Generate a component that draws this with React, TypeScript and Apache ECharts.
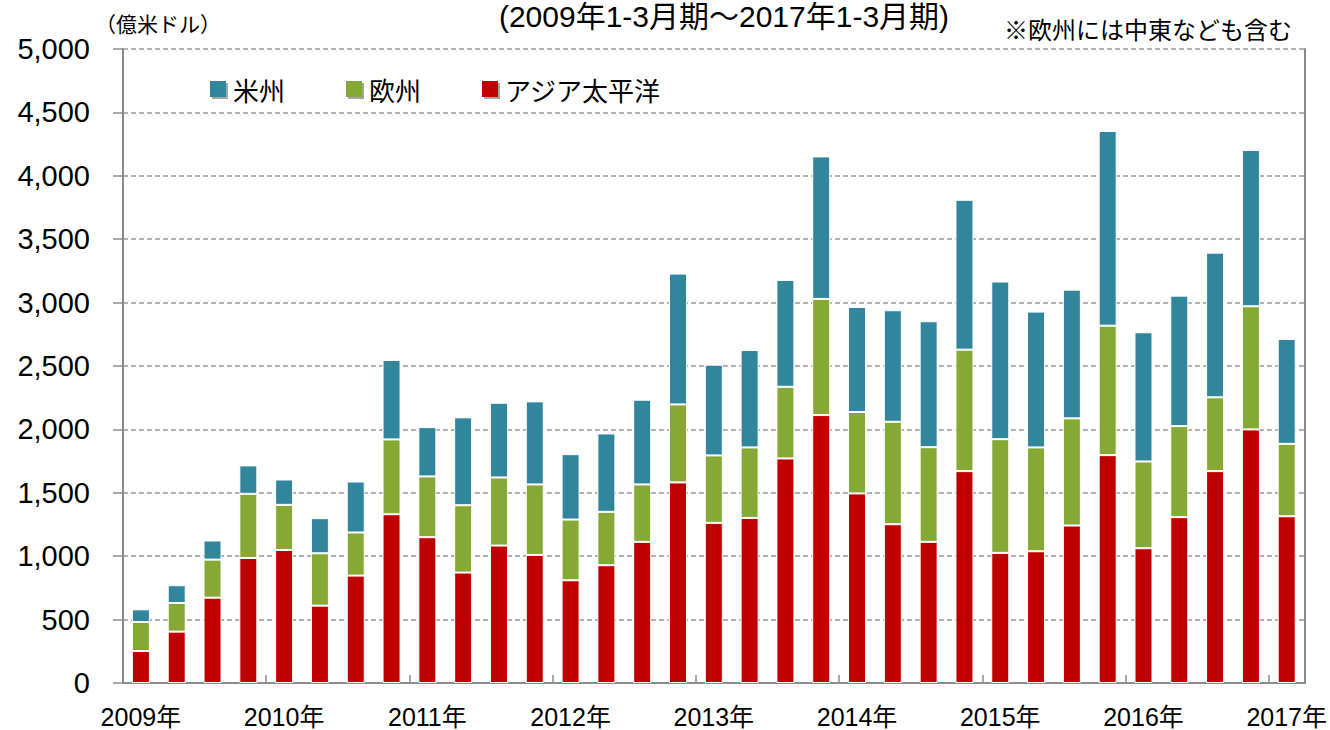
import React, { useEffect, useRef } from "react";
import * as echarts from "echarts";

const years = ["2009", "2010", "2011", "2012", "2013", "2014", "2015", "2016", "2017"];
const quarterNames = ["1-3月期", "4-6月期", "7-9月期", "10-12月期"];
const categories: string[] = [];
years.forEach((y) => quarterNames.forEach((q) => categories.push(`${y}年${q}`)));
categories.splice(33);

const seriesNames = ["米州", "欧州", "アジア太平洋"];

const asiaPacific = [252, 405, 673, 986, 1049, 610, 847, 1331, 1150, 871, 1084, 1010, 810, 929, 1113, 1582, 1263, 1302, 1771, 2113, 1495, 1252, 1113, 1671, 1026, 1039, 1242, 1797, 1063, 1308, 1671, 2000, 1315];
const europe = [229, 226, 300, 506, 356, 413, 340, 590, 479, 531, 537, 556, 479, 421, 453, 615, 532, 556, 565, 916, 642, 808, 747, 958, 897, 819, 845, 1021, 684, 718, 582, 971, 571];
const americas = [100, 140, 151, 224, 200, 277, 402, 626, 389, 693, 589, 655, 516, 618, 668, 1032, 715, 768, 843, 1124, 829, 880, 993, 1182, 1243, 1071, 1015, 1535, 1019, 1029, 1141, 1232, 827];

const titleText = "(2009年1-3月期～2017年1-3月期)";
const noteText = "※欧州には中東なども含む";
const unitText = "（億米ドル）";

const COLORS = { americas: "#31869B", europe: "#86A935", asia: "#C00000" };
const LATIN = "'Liberation Sans', Arial, 'Noto Sans CJK JP', sans-serif";
const CJK = "'Noto Sans CJK JP', 'Liberation Sans', sans-serif";

export default function App() {
  const ref = useRef<HTMLDivElement>(null);
  useEffect(() => {
    if (!ref.current) return;
    const chart = echarts.init(ref.current, undefined, { renderer: "svg" });
    const legendBase = (name: string, left: number) => ({
      data: [name],
      left,
      top: 71,
      icon: "rect",
      itemWidth: 16,
      itemHeight: 16,
      selectedMode: false,
      textStyle: { fontSize: 26, fontFamily: CJK, color: "#000", padding: [0, 0, 0, 2] },
      itemStyle: { borderWidth: 0, shadowColor: "rgba(0,0,0,0.35)", shadowOffsetX: 2, shadowOffsetY: 2, shadowBlur: 0 },
    });
    const barBase = {
      type: "bar" as const,
      stack: "total",
      barWidth: 18,
      itemStyle: { borderColor: "#fff", borderWidth: 1 },
    };
    chart.setOption({
      animation: false,
      backgroundColor: "#fff",
      grid: { left: 123, right: 24, top: 49, bottom: 47, containLabel: false },
      legend: [
        legendBase(seriesNames[0], 205),
        legendBase(seriesNames[1], 341),
        legendBase(seriesNames[2], 477),
      ],
      graphic: [
        {
          type: "text",
          x: 724,
          y: 16,
          style: {
            text: titleText,
            fontSize: 30,
            fontFamily: LATIN,
            fill: "#000",
            align: "center",
            verticalAlign: "middle",
          },
        },
        {
          type: "text",
          x: 1292,
          y: 28,
          style: {
            text: noteText,
            fontSize: 24,
            fontFamily: CJK,
            fill: "#000",
            align: "right",
            verticalAlign: "middle",
          },
        },
        {
          type: "text",
          x: 95,
          y: 23,
          style: {
            text: unitText,
            fontSize: 21,
            fontFamily: CJK,
            fill: "#000",
            align: "left",
            verticalAlign: "middle",
          },
        },
      ],
      xAxis: {
        type: "category",
        data: categories,
        boundaryGap: true,
        axisLine: { show: true, lineStyle: { color: "#8c8c8c", width: 2 } },
        axisTick: { show: true, interval: 3, inside: true, length: 8, lineStyle: { color: "#8c8c8c", width: 1.5 } },
        axisLabel: {
          interval: 3,
          margin: 21,
          fontSize: 25,
          fontFamily: LATIN,
          color: "#000",
          formatter: (v: string) => v.slice(0, 5),
        },
        splitLine: { show: false },
      },
      yAxis: [
        {
          type: "value",
          min: 0,
          max: 5000,
          interval: 500,
          axisLine: { show: true, lineStyle: { color: "#8c8c8c", width: 2 } },
          axisTick: { show: true, length: 10, lineStyle: { color: "#8c8c8c", width: 1.5 } },
          axisLabel: {
            margin: 33,
            fontSize: 29,
            fontFamily: LATIN,
            color: "#000",
            formatter: (v: number) => v.toLocaleString("en-US"),
          },
          splitLine: { show: true, lineStyle: { color: "#999", width: 1.5, type: [5, 3] } },
        },
        {
          type: "value",
          position: "right",
          min: 0,
          max: 5000,
          interval: 500,
          axisLine: { show: true, lineStyle: { color: "#8c8c8c", width: 2 } },
          axisTick: { show: false },
          axisLabel: { show: false },
          splitLine: { show: false },
        },
      ],
      series: [
        { ...barBase, name: seriesNames[2], data: asiaPacific, itemStyle: { ...barBase.itemStyle, color: COLORS.asia } },
        { ...barBase, name: seriesNames[1], data: europe, itemStyle: { ...barBase.itemStyle, color: COLORS.europe } },
        { ...barBase, name: seriesNames[0], data: americas, itemStyle: { ...barBase.itemStyle, color: COLORS.americas } },
      ],
    });
    return () => chart.dispose();
  }, []);
  return <div ref={ref} style={{ position: "absolute", left: 0, top: 0, width: 1330, height: 730 }} />;
}
